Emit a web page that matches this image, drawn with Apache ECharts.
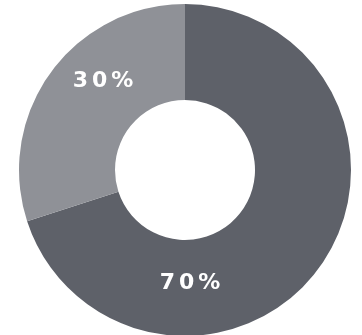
<!DOCTYPE html>
<html>
<head>
<meta charset="utf-8">
<style>html,body{margin:0;padding:0;background:#fff;}#c{width:362px;height:335px;}</style>
<script src="https://cdn.jsdelivr.net/npm/echarts@6/dist/echarts.min.js"></script>
</head>
<body>
<div id="c"></div>
<script>
var categories = ['A', 'B'];
var values = [70, 30];
var labels = ['70%', '30%'];
var colors = ['#5e6169', '#8f9197'];

var chart = echarts.init(document.getElementById('c'), null, {renderer: 'canvas'});
var labelPos = [[190, 283], [103, 81]];
chart.setOption({
  backgroundColor: '#ffffff',
  animation: false,
  series: [{
    type: 'pie',
    center: [185, 170],
    radius: [70, 166],
    startAngle: 90,
    clockwise: true,
    silent: true,
    data: categories.map(function (c, i) {
      return {name: c, value: values[i], itemStyle: {color: colors[i]}};
    }),
    label: {
      show: true,
      position: 'inside',
      formatter: function (p) {
        return labels[p.dataIndex].split('').map(function (ch) { return '{c|' + ch + '}'; }).join('');
      },
      color: '#ffffff',
      fontFamily: 'DejaVu Sans',
      fontWeight: 'bold',
      fontSize: 22,
      rich: {
        c: {color: '#ffffff', fontFamily: 'DejaVu Sans', fontWeight: 'bold', fontSize: 22, padding: [0, 2]}
      }
    },
    labelLine: {show: false},
    labelLayout: function (p) {
      return {x: labelPos[p.dataIndex][0], y: labelPos[p.dataIndex][1], align: 'center', verticalAlign: 'middle'};
    }
  }]
});
</script>
</body>
</html>
